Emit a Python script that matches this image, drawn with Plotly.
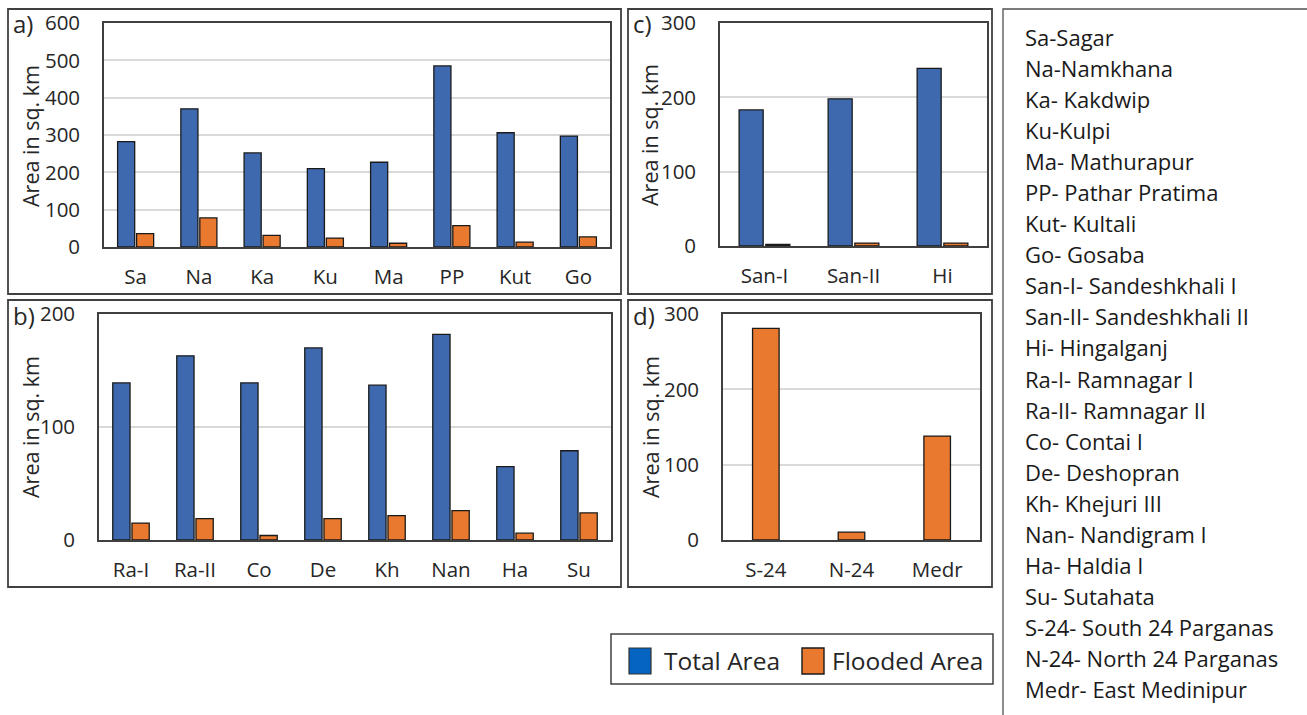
import plotly.graph_objects as go

W, H = 1307, 715

# ---------------- data ----------------
cat_a = ["Sa", "Na", "Ka", "Ku", "Ma", "PP", "Kut", "Go"]
total_a = [282, 370, 252, 210, 227, 485, 306, 297]
flood_a = [36, 78, 31, 24, 10, 57, 13, 27]

cat_b = ["Ra-I", "Ra-II", "Co", "De", "Kh", "Nan", "Ha", "Su"]
total_b = [139, 163, 139, 170, 137, 182, 65, 79]
flood_b = [15, 19, 4, 19, 21.5, 26, 6, 24]

cat_c = ["San-I", "San-II", "Hi"]
total_c = [183, 198, 239]
flood_c = [2, 4, 4]

cat_d = ["S-24", "N-24", "Medr"]
flood_d = [281, 10.5, 138]

glossary = [
    "Sa-Sagar", "Na-Namkhana", "Ka- Kakdwip", "Ku-Kulpi", "Ma- Mathurapur",
    "PP- Pathar Pratima", "Kut- Kultali", "Go- Gosaba", "San-I- Sandeshkhali I",
    "San-II- Sandeshkhali II", "Hi- Hingalganj", "Ra-I- Ramnagar I",
    "Ra-II- Ramnagar II", "Co- Contai I", "De- Deshopran", "Kh- Khejuri III",
    "Nan- Nandigram I", "Ha- Haldia I", "Su- Sutahata",
    "S-24- South 24 Parganas", "N-24- North 24 Parganas", "Medr- East Medinipur",
]

# ---------------- style ----------------
FONT = "Open Sans"
BLUE = "#3F69AF"
ORANGE = "#E8792E"
LEG_BLUE = "#0563C1"
EDGE = "#1a1a1a"
AXC = "#404040"
GRID = "#D9D9D9"
TXT = "#262626"


def px(x):
    return x / W


def py(y):
    return 1 - y / H


fig = go.Figure()

panels = [
    # name, xaxis, yaxis, x-domain px, y-domain px (top,bottom), yrange
    ("a", "x", "y", (104, 610), (23, 247), 600),
    ("b", "x2", "y2", (99, 611), (314, 540), 200),
    ("c", "x3", "y3", (720, 987), (23, 246), 300),
    ("d", "x4", "y4", (723, 980), (314, 540), 300),
]

series = {
    "a": (cat_a, total_a, flood_a),
    "b": (cat_b, total_b, flood_b),
    "c": (cat_c, total_c, flood_c),
}

for name, xa, ya, _, _, _ in panels:
    if name in series:
        cats, tot, fl = series[name]
        fig.add_trace(go.Bar(x=cats, y=tot, name="Total Area", xaxis=xa, yaxis=ya,
                             marker=dict(color=BLUE, line=dict(color=EDGE, width=1.3)),
                             showlegend=False, offsetgroup="t"))
        fig.add_trace(go.Bar(x=cats, y=fl, name="Flooded Area", xaxis=xa, yaxis=ya,
                             marker=dict(color=ORANGE, line=dict(color=EDGE, width=1.3)),
                             showlegend=False, offsetgroup="f"))
    else:
        fig.add_trace(go.Bar(x=cat_d, y=flood_d, name="Flooded Area", xaxis=xa, yaxis=ya,
                             marker=dict(color=ORANGE, line=dict(color=EDGE, width=1.3)),
                             width=0.31, offset=-0.155, showlegend=False))

layout = dict(
    template="none",
    width=W, height=H, autosize=False,
    margin=dict(l=0, r=0, t=0, b=0, pad=0),
    paper_bgcolor="white", plot_bgcolor="white",
    barmode="group", bargap=0.4, bargroupgap=0.1,
    font=dict(family=FONT, size=20, color=TXT),
    showlegend=False,
)

for i, (name, xa, ya, xd, yd, ymax) in enumerate(panels):
    sfx = "" if i == 0 else str(i + 1)
    layout["xaxis" + sfx] = dict(
        domain=[px(xd[0]), px(xd[1])], anchor="y" + sfx, automargin=False,
        showline=True, mirror=True, linecolor=AXC, linewidth=1.6,
        ticks="", ticklabelstandoff=11, tickfont=dict(size=20.5, color=TXT),
        showgrid=False, fixedrange=True,
    )
    layout["yaxis" + sfx] = dict(
        domain=[py(yd[1]), py(yd[0])], anchor="x" + sfx, automargin=False,
        range=[0, ymax], dtick=100, tick0=0,
        showline=True, mirror=True, linecolor=AXC, linewidth=1.6,
        ticks="", ticklabelstandoff=18, tickfont=dict(size=20.5, color=TXT),
        showgrid=True, gridcolor=GRID, gridwidth=1.5, zeroline=False, fixedrange=True,
    )

fig.update_layout(**layout)

shapes = []
annotations = []

# outer panel borders
for (x0, y0, x1, y1) in [(8, 9, 621, 294), (8, 300, 621, 587),
                         (628, 9, 992, 294), (628, 300, 992, 587)]:
    shapes.append(dict(type="rect", xref="paper", yref="paper",
                       x0=px(x0), x1=px(x1), y0=py(y1), y1=py(y0),
                       line=dict(color=AXC, width=1.8), fillcolor="rgba(0,0,0,0)"))

# panel letters
for lab, x, y in [("a)", 11, 24), ("b)", 11, 315), ("c)", 631, 24), ("d)", 631, 315)]:
    annotations.append(dict(text=lab, xref="paper", yref="paper", x=px(x), y=py(y),
                            xanchor="left", yanchor="middle", showarrow=False,
                            font=dict(size=24, color=TXT, family=FONT)))

# y axis titles
for x, y in [(30, 136), (30, 427), (650, 135), (650, 427)]:
    annotations.append(dict(text="Area in sq. km", xref="paper", yref="paper",
                            x=px(x), y=py(y), xanchor="center", yanchor="middle",
                            textangle=-90, showarrow=False,
                            font=dict(size=21.5, color=TXT, family=FONT)))

# legend box
shapes.append(dict(type="rect", xref="paper", yref="paper",
                   x0=px(611), x1=px(993), y0=py(684), y1=py(634),
                   line=dict(color=AXC, width=1.5), fillcolor="white"))
shapes.append(dict(type="rect", xref="paper", yref="paper",
                   x0=px(629), x1=px(651), y0=py(674), y1=py(648),
                   line=dict(color="#333333", width=1.2), fillcolor=LEG_BLUE))
shapes.append(dict(type="rect", xref="paper", yref="paper",
                   x0=px(802), x1=px(824), y0=py(674), y1=py(648),
                   line=dict(color=EDGE, width=1.4), fillcolor=ORANGE))
annotations.append(dict(text="Total Area", xref="paper", yref="paper", x=px(662), y=py(660),
                        xanchor="left", yanchor="middle", showarrow=False,
                        font=dict(size=24.5, color=TXT, family=FONT)))
annotations.append(dict(text="Flooded Area", xref="paper", yref="paper", x=px(830), y=py(660),
                        xanchor="left", yanchor="middle", showarrow=False,
                        font=dict(size=24.5, color=TXT, family=FONT)))

# glossary box
shapes.append(dict(type="rect", xref="paper", yref="paper",
                   x0=px(1003), x1=px(1330), y0=py(740), y1=py(9),
                   line=dict(color="#505050", width=1.3), fillcolor="rgba(0,0,0,0)"))
y0g, dy = 37, (689 - 37) / 21
for k, line in enumerate(glossary):
    annotations.append(dict(text=line, xref="paper", yref="paper", x=px(1023), y=py(y0g + k * dy),
                            xanchor="left", yanchor="middle", showarrow=False,
                            font=dict(size=22, color="#1a1a1a", family=FONT)))

fig.update_layout(shapes=shapes, annotations=annotations)

fig.write_html("out.html", config={"displayModeBar": False, "responsive": False},
               post_script="document.body.style.margin='0px';document.body.style.overflow='hidden';")
